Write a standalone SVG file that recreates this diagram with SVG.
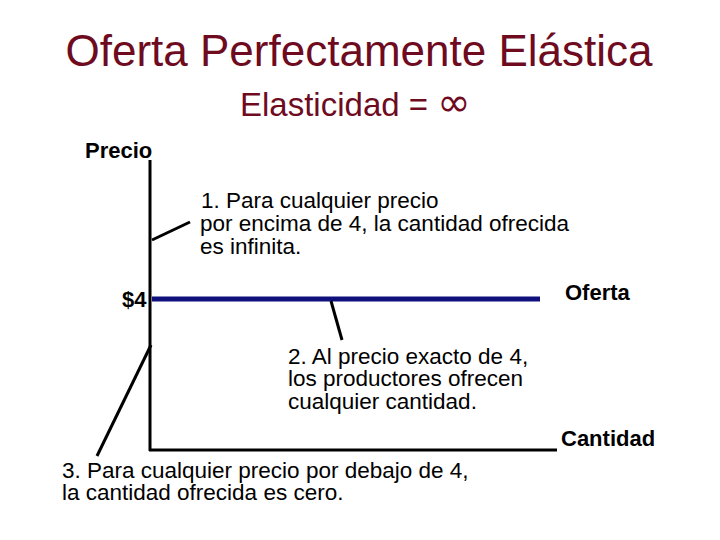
<svg xmlns="http://www.w3.org/2000/svg" width="720" height="540" viewBox="0 0 720 540">
<style>
.title{font-family:"Liberation Sans",Arial,sans-serif;fill:#6e0b1f}
.lab{font-family:"Liberation Sans",Arial,sans-serif;font-weight:bold;font-size:22px;fill:#000}
.txt{font-family:"Liberation Sans",Arial,sans-serif;font-size:22.5px;fill:#000}
.ax{stroke:#000;stroke-width:3;fill:none}
.ld{stroke:#000;stroke-width:3;fill:none}
</style>
<rect width="720" height="540" fill="#fff"/>
<g id="title">
<text class="title" x="359" y="66" font-size="44" text-anchor="middle">Oferta Perfectamente Elástica</text>
<text class="title" x="240" y="116" font-size="33">Elasticidad = <tspan font-family="DejaVu Sans,sans-serif" font-size="40">∞</tspan></text>
</g>
<g id="axes">
<line class="ax" x1="150" y1="160" x2="150" y2="451"/>
<line class="ax" x1="149" y1="450" x2="557" y2="450"/>
<text class="lab" x="85" y="158">Precio</text>
<text class="lab" x="561" y="446">Cantidad</text>
<text class="lab" x="122" y="307">$4</text>
</g>
<g id="supply">
<line x1="152" y1="299" x2="540" y2="299" stroke="#10107c" stroke-width="5"/>
<text class="lab" x="565" y="300">Oferta</text>
</g>
<g id="connectors">
<line class="ld" x1="152" y1="240" x2="190" y2="222"/>
<line class="ld" x1="331" y1="301" x2="342" y2="340"/>
<line class="ld" x1="151" y1="345" x2="97" y2="456"/>
</g>
<g id="note1">
<text class="txt" x="201" y="208">1. Para cualquier precio</text>
<text class="txt" x="200" y="231">por encima de 4, la cantidad ofrecida</text>
<text class="txt" x="200" y="254">es infinita.</text>
</g>
<g id="note2">
<text class="txt" x="288" y="364">2. Al precio exacto de 4,</text>
<text class="txt" x="288" y="386">los productores ofrecen</text>
<text class="txt" x="288" y="409">cualquier cantidad.</text>
</g>
<g id="note3">
<text class="txt" x="62" y="478">3. Para cualquier precio por debajo de 4,</text>
<text class="txt" x="62" y="500">la cantidad ofrecida es cero.</text>
</g>
</svg>
